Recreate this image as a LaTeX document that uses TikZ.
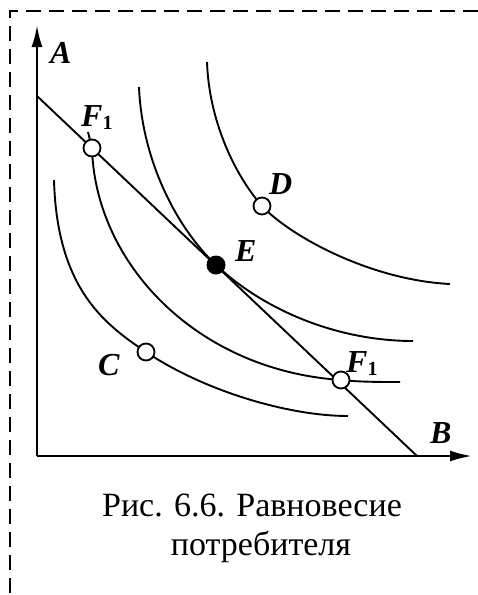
\documentclass[tikz,border=0pt]{standalone}
\usepackage{fontspec}
\setmainfont{Liberation Serif}
\usetikzlibrary{arrows.meta}
\tikzset{
  frameline/.style={line width=1.8pt, dash pattern=on 15pt off 8pt},
  axisline/.style={line width=2.4pt, -{Latex[length=22pt,width=11pt]}},
  curveline/.style={line width=1.9pt},
  opencirc/.style={circle, draw, fill=white, line width=1.8pt, minimum size=17pt, inner sep=0pt},
  fullcirc/.style={circle, fill=black, minimum size=19pt, inner sep=0pt},
  lbl/.style={anchor=base west, inner sep=0pt, font=\fontsize{32}{32}\selectfont\bfseries\itshape},
  captext/.style={anchor=base, inner sep=0pt, font=\fontsize{34}{38}\selectfont}
}
\newcommand{\subone}{\raisebox{-3pt}{\fontsize{20}{20}\selectfont\upshape\bfseries 1}}
\begin{document}
\begin{tikzpicture}[x=1pt,y=-1pt]
\useasboundingbox (0,0) rectangle (478,595);
% frame
\coordinate (fc) at (10,11);
\coordinate (fr) at (478,11);
\coordinate (fb) at (10,595);
\draw[frameline] (fr) -- (fc) -- (fb);
% axes
\coordinate (O) at (37,456);
\coordinate (Ay) at (37,25);
\coordinate (Bx) at (472,456);
\draw[axisline] (O) -- (Ay);
\draw[axisline] (O) -- (Bx);
% points (positions)
\coordinate (pF1a) at (92,148);
\coordinate (pF1b) at (341,380);
\coordinate (pC) at (146,352);
\coordinate (pD) at (262,206);
\coordinate (pE) at (216,265);
% curve ends
\coordinate (c1s) at (54,180);   \coordinate (c1e) at (348,416);
\coordinate (c2s) at (88,132);   \coordinate (c2e) at (400,382);
\coordinate (c3s) at (139,87);   \coordinate (c3e) at (413,341);
\coordinate (c4s) at (207,62);   \coordinate (c4e) at (450,284);
% indifference curves
\draw[curveline] (c1s) .. controls (57,290) and (106,325) .. (pC)
                       .. controls (206,392) and (290,416) .. (c1e);
\draw[curveline] (c2s) -- (pF1a) .. controls (95,262) and (195,370) .. (pF1b)
                       .. controls (360,382) and (380,382) .. (c2e);
\draw[curveline] (c3s) .. controls (142,160) and (176,227) .. (pE)
                       .. controls (266,312) and (340,341) .. (c3e);
\draw[curveline] (c4s) .. controls (209,120) and (234,174) .. (pD)
                       .. controls (290,236) and (370,280) .. (c4e);
% budget line
\coordinate (Bt) at (37,96);
\coordinate (Bb) at (417,456);
\draw[curveline] (Bt) -- (Bb);
% point markers
\node[opencirc] (F1a) at (pF1a) {};
\node[opencirc] (F1b) at (pF1b) {};
\node[opencirc] (C) at (pC) {};
\node[opencirc] (D) at (pD) {};
\node[fullcirc] (E) at (pE) {};
% labels
\node[lbl] (lA) at (50,63) {A};
\node[lbl] (lB) at (430,443) {B};
\node[lbl] (lC) at (98,375) {C};
\node[lbl] (lD) at (269,194) {D};
\node[lbl] (lE) at (235,261) {E};
\node[lbl] (lF1a) at (81,126) {F\subone};
\node[lbl] (lF1b) at (346,372) {F\subone};
% caption
\node[captext] (cap1) at (252,516.7) {Рис. 6.6. Равновесие};
\node[captext] (cap2) at (261,555) {потребителя};
\end{tikzpicture}
\end{document}
